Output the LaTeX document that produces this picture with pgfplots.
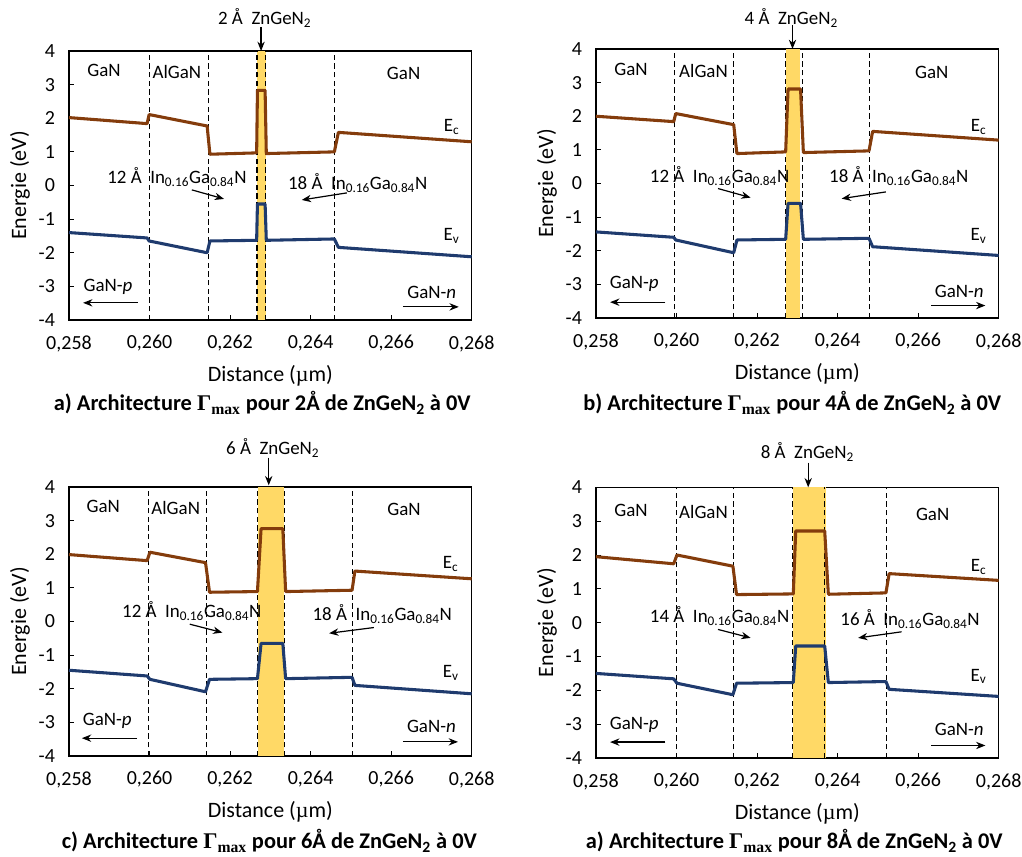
\documentclass[border=0pt]{standalone}
\usepackage{fontspec}
\setmainfont{Carlito}
\newfontfamily\serif{Liberation Serif}
\usepackage{pgfplots}
\pgfplotsset{compat=1.18}
\usetikzlibrary{arrows.meta}
\definecolor{ecc}{HTML}{843C0C}
\definecolor{evc}{HTML}{1F3B6E}
\definecolor{bandc}{HTML}{FFD966}
\newcommand{\annfont}{\fontsize{14.2}{16}\selectfont}
\newcommand{\ingan}{In\textsubscript{0.16}Ga\textsubscript{0.84}N}
\newcommand{\vd}[1]{\addplot[black, line width=0.9pt, dash pattern=on 4pt off 2.5pt] coordinates {(#1,-4) (#1,4)};}
\tikzset{ar/.style={-{Stealth[length=7pt,width=5.5pt]}, line width=0.9pt}}
\pgfplotsset{panel/.style={
  scale only axis, width=302pt, height=201.75pt,
  xmin=0.258, xmax=0.268, ymin=-4, ymax=4,
  xtick={0.258,0.260,0.262,0.264,0.266,0.268},
  xticklabels={{0,258},{0,260},{0,262},{0,264},{0,266},{0,268}},
  ytick={-4,-3,-2,-1,0,1,2,3,4},
  tick align=inside, major tick length=3.5pt,
  tick style={black, line width=0.6pt},
  xtick pos=bottom, ytick pos=left,
  tick label style={font=\fontsize{15}{17}\selectfont},
  xticklabel style={yshift=-8pt},
  yticklabel style={xshift=-7pt},
  /pgf/number format/assume math mode=true,
  axis line style={line width=1pt},
  label style={font=\fontsize{16.5}{19}\selectfont},
  xlabel={Distance ({\serif µ}m)},
  ylabel={Energie (eV)},
  xlabel style={at={(rel axis cs:0.5,0)}, anchor=center, yshift=-42pt},
  ylabel style={at={([xshift=-36.75pt]rel axis cs:0,0.5)}, anchor=center},
  clip=false,
  scaled x ticks=false,
  every axis plot/.append style={line join=round},
}}
\begin{document}
\begin{tikzpicture}
\path[use as bounding box] (0,0) rectangle (766.5pt,642.75pt);
% ---------------- panel a
\begin{axis}[panel, at={(51.75pt,402.75pt)}, anchor=south west]
\addplot[fill=bandc, draw=none] coordinates {(0.26267,-4) (0.26267,4) (0.26288,4) (0.26288,-4)} --cycle;
\vd{0.2600}\vd{0.26147}\vd{0.26267}\vd{0.26288}\vd{0.26460}
\addplot[ecc, line width=2.3pt] coordinates {(0.258,2.02) (0.25994,1.84) (0.25999,2.11) (0.26143,1.77) (0.26150,0.93) (0.26266,0.97) (0.26268,2.83) (0.26287,2.83) (0.26290,0.95) (0.26459,1.00) (0.26469,1.58) (0.268,1.30)};
\addplot[evc, line width=2.3pt] coordinates {(0.258,-1.40) (0.25994,-1.56) (0.25999,-1.65) (0.26143,-2.00) (0.26150,-1.65) (0.26266,-1.63) (0.26268,-0.55) (0.26287,-0.55) (0.26290,-1.63) (0.26459,-1.59) (0.26469,-1.84) (0.268,-2.12)};
\begin{scope}[font=\annfont]
\node at (axis cs:0.26286,4.98) {2 Å\ \ ZnGeN\textsubscript{2}};
\draw[ar] (axis cs:0.26277,4.72) -- (axis cs:0.26277,4.0);
\node at (axis cs:0.25887,3.41) {GaN};
\node at (axis cs:0.26068,3.38) {AlGaN};
\node at (axis cs:0.26631,3.32) {GaN};
\node at (axis cs:0.26750,1.74) {E\textsubscript{c}};
\node at (axis cs:0.26750,-1.50) {E\textsubscript{v}};
\node at (axis cs:0.26068,0.25) {12 Å\ \ \ingan};
\draw[ar] (axis cs:0.26105,-0.13) -- (axis cs:0.26185,-0.40);
\node at (axis cs:0.26517,0.07) {18 Å\ \ \ingan};
\draw[ar] (axis cs:0.2649,-0.22) -- (axis cs:0.26378,-0.43);
\node at (axis cs:0.25897,-3.02) {GaN-\textit{p}};
\draw[ar] (axis cs:0.25971,-3.49) -- (axis cs:0.25835,-3.49);
\node at (axis cs:0.26701,-3.17) {GaN-\textit{n}};
\draw[ar] (axis cs:0.26629,-3.61) -- (axis cs:0.26768,-3.61);
\node[font=\bfseries\fontsize{16.8}{19}\selectfont] at ([yshift=-62.25pt]rel axis cs:0.48,0) {a) Architecture {\serif\bfseries Γ\textsubscript{max}} pour 2Å de ZnGeN\textsubscript{2} à 0V};
\end{scope}
\end{axis}
% ---------------- panel b
\begin{axis}[panel, at={(447pt,404.25pt)}, anchor=south west]
\addplot[fill=bandc, draw=none] coordinates {(0.26271,-4) (0.26271,4) (0.26307,4) (0.26307,-4)} --cycle;
\vd{0.25995}\vd{0.26141}\vd{0.26271}\vd{0.26312}\vd{0.26479}
\addplot[ecc, line width=2.3pt] coordinates {(0.258,2.00) (0.25993,1.84) (0.25998,2.08) (0.26142,1.75) (0.26150,0.89) (0.26271,0.94) (0.26277,2.81) (0.26308,2.81) (0.26315,0.92) (0.26478,0.97) (0.26487,1.55) (0.268,1.29)};
\addplot[evc, line width=2.3pt] coordinates {(0.258,-1.44) (0.25993,-1.60) (0.25998,-1.68) (0.26142,-2.06) (0.26150,-1.68) (0.26271,-1.66) (0.26277,-0.59) (0.26308,-0.59) (0.26315,-1.66) (0.26478,-1.63) (0.26487,-1.88) (0.268,-2.14)};
\begin{scope}[font=\annfont]
\node at (axis cs:0.26285,4.92) {4 Å\ \ ZnGeN\textsubscript{2}};
\draw[ar] (axis cs:0.26288,4.72) -- (axis cs:0.26288,4.0);
\node at (axis cs:0.25887,3.38) {GaN};
\node at (axis cs:0.26067,3.35) {AlGaN};
\node at (axis cs:0.26634,3.29) {GaN};
\node at (axis cs:0.26750,1.67) {E\textsubscript{c}};
\node at (axis cs:0.26750,-1.57) {E\textsubscript{v}};
\node at (axis cs:0.26107,0.22) {12 Å\ \ \ingan};
\draw[ar] (axis cs:0.26103,-0.15) -- (axis cs:0.26184,-0.42);
\node at (axis cs:0.26552,0.22) {18 Å\ \ \ingan};
\draw[ar] (axis cs:0.2652,-0.25) -- (axis cs:0.2641,-0.45);
\node at (axis cs:0.25895,-3.0) {GaN-\textit{p}};
\draw[ar] (axis cs:0.25972,-3.53) -- (axis cs:0.25835,-3.53);
\node at (axis cs:0.26702,-3.2) {GaN-\textit{n}};
\draw[ar] (axis cs:0.26632,-3.63) -- (axis cs:0.26767,-3.63);
\node[font=\bfseries\fontsize{16.8}{19}\selectfont] at ([yshift=-63.75pt]rel axis cs:0.4875,0) {b) Architecture {\serif\bfseries Γ\textsubscript{max}} pour 4Å de ZnGeN\textsubscript{2} à 0V};
\end{scope}
\end{axis}
% ---------------- panel c
\begin{axis}[panel, at={(51.75pt,75.75pt)}, anchor=south west]
\addplot[fill=bandc, draw=none] coordinates {(0.26270,-4) (0.26270,4) (0.26333,4) (0.26333,-4)} --cycle;
\vd{0.25998}\vd{0.26142}\vd{0.26269}\vd{0.26335}\vd{0.26505}
\addplot[ecc, line width=2.3pt] coordinates {(0.258,1.99) (0.25994,1.81) (0.26001,2.06) (0.26139,1.75) (0.26149,0.87) (0.26268,0.89) (0.26277,2.76) (0.26331,2.76) (0.26338,0.89) (0.26503,0.93) (0.26510,1.50) (0.268,1.27)};
\addplot[evc, line width=2.3pt] coordinates {(0.258,-1.45) (0.25994,-1.62) (0.26001,-1.72) (0.26139,-2.09) (0.26149,-1.72) (0.26268,-1.70) (0.26277,-0.65) (0.26331,-0.65) (0.26338,-1.70) (0.26503,-1.66) (0.26510,-1.90) (0.268,-2.15)};
\begin{scope}[font=\annfont]
\node at (axis cs:0.26306,5.15) {6 Å\ \ ZnGeN\textsubscript{2}};
\draw[ar] (axis cs:0.26296,4.87) -- (axis cs:0.26296,4.05);
\node at (axis cs:0.25885,3.43) {GaN};
\node at (axis cs:0.26065,3.38) {AlGaN};
\node at (axis cs:0.26632,3.32) {GaN};
\node at (axis cs:0.26748,1.70) {E\textsubscript{c}};
\node at (axis cs:0.26748,-1.54) {E\textsubscript{v}};
\node at (axis cs:0.26105,0.31) {12 Å\ \ \ingan};
\draw[ar] (axis cs:0.26100,-0.08) -- (axis cs:0.26181,-0.33);
\node at (axis cs:0.26578,0.21) {18 Å\ \ \ingan};
\draw[ar] (axis cs:0.26557,-0.18) -- (axis cs:0.26446,-0.35);
\node at (axis cs:0.25895,-2.96) {GaN-\textit{p}};
\draw[ar] (axis cs:0.25969,-3.47) -- (axis cs:0.25832,-3.47);
\node at (axis cs:0.26700,-3.11) {GaN-\textit{n}};
\draw[ar] (axis cs:0.26629,-3.58) -- (axis cs:0.26766,-3.58);
\node[font=\bfseries\fontsize{16.8}{19}\selectfont] at ([yshift=-63.75pt]rel axis cs:0.4975,0) {c) Architecture {\serif\bfseries Γ\textsubscript{max}} pour 6Å de ZnGeN\textsubscript{2} à 0V};
\end{scope}
\end{axis}
% ---------------- panel d
\begin{axis}[panel, height=203pt, at={(447pt,74.25pt)}, anchor=south west]
\addplot[fill=bandc, draw=none] coordinates {(0.2629,-4) (0.2629,4) (0.2637,4) (0.2637,-4)} --cycle;
\vd{0.2600}\vd{0.26141}\vd{0.26288}\vd{0.26368}\vd{0.26522}
\addplot[ecc, line width=2.3pt] coordinates {(0.258,1.95) (0.25993,1.74) (0.26001,2.00) (0.26140,1.67) (0.26149,0.83) (0.26290,0.85) (0.26296,2.71) (0.26368,2.71) (0.26377,0.84) (0.26520,0.88) (0.26528,1.45) (0.268,1.25)};
\addplot[evc, line width=2.3pt] coordinates {(0.258,-1.50) (0.25993,-1.66) (0.26001,-1.79) (0.26140,-2.13) (0.26149,-1.79) (0.26290,-1.77) (0.26296,-0.69) (0.26368,-0.69) (0.26377,-1.77) (0.26520,-1.74) (0.26528,-1.97) (0.268,-2.18)};
\begin{scope}[font=\annfont]
\node at (axis cs:0.26325,5.05) {8 Å\ \ ZnGeN\textsubscript{2}};
\draw[ar] (axis cs:0.26327,4.73) -- (axis cs:0.26327,4.0);
\node at (axis cs:0.25887,3.33) {GaN};
\node at (axis cs:0.26067,3.28) {AlGaN};
\node at (axis cs:0.26636,3.21) {GaN};
\node at (axis cs:0.26750,1.64) {E\textsubscript{c}};
\node at (axis cs:0.26750,-1.59) {E\textsubscript{v}};
\node at (axis cs:0.26107,0.19) {14 Å\ \ \ingan};
\draw[ar] (axis cs:0.26103,-0.2) -- (axis cs:0.26184,-0.45);
\node at (axis cs:0.26580,0.12) {16 Å\ \ \ingan};
\draw[ar] (axis cs:0.26559,-0.27) -- (axis cs:0.26451,-0.45);
\node at (axis cs:0.25895,-3.02) {GaN-\textit{p}};
\draw[ar] (axis cs:0.25972,-3.53) -- (axis cs:0.25835,-3.53);
\node at (axis cs:0.26702,-3.17) {GaN-\textit{n}};
\draw[ar] (axis cs:0.26632,-3.63) -- (axis cs:0.26767,-3.63);
\node[font=\bfseries\fontsize{16.8}{19}\selectfont] at ([yshift=-62.25pt]rel axis cs:0.4925,0) {a) Architecture {\serif\bfseries Γ\textsubscript{max}} pour 8Å de ZnGeN\textsubscript{2} à 0V};
\end{scope}
\end{axis}
\end{tikzpicture}
\end{document}
